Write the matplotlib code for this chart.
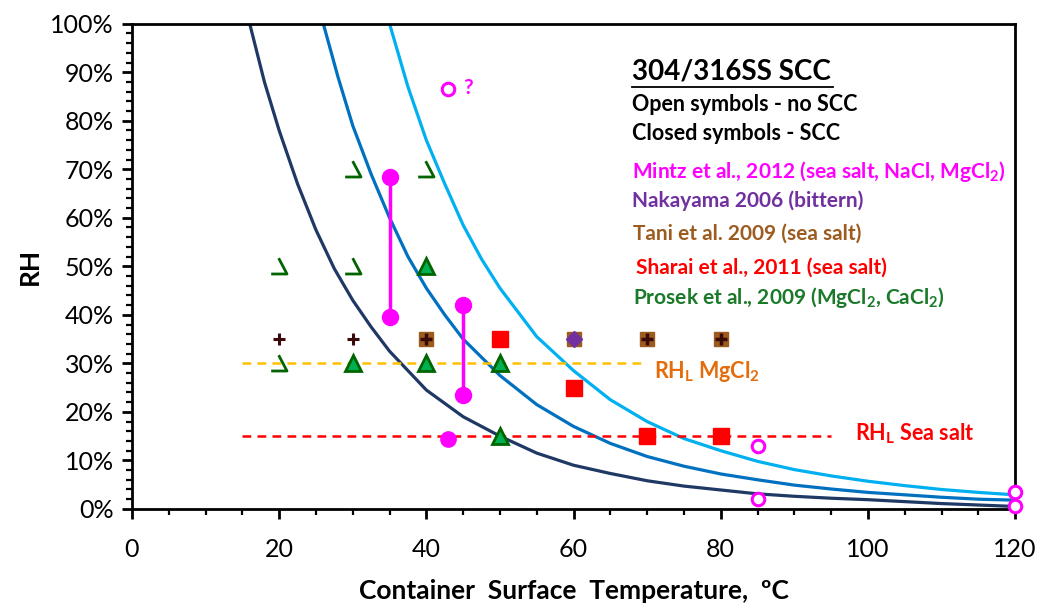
import numpy as np
import matplotlib
matplotlib.use("Agg")
import matplotlib.pyplot as plt
from matplotlib.path import Path
from matplotlib.ticker import MultipleLocator, PercentFormatter

plt.rcParams['font.family'] = ['Lato', 'DejaVu Sans']
plt.rcParams['mathtext.fontset'] = 'custom'
plt.rcParams['mathtext.bf'] = 'Lato:bold'
plt.rcParams['mathtext.rm'] = 'Lato'

# RH curves (temperature degC, RH %)
temp_dark = [16, 18, 20, 22.5, 25, 27.5, 30, 32.5, 35, 40, 45, 50, 55, 60, 65, 70, 75, 80,
             85, 90, 95, 100, 105, 110, 115, 120]
rh_dark = [100, 88, 78, 67, 57.5, 49.5, 43, 37.5, 32.5, 24.5, 19, 15, 11.5, 9, 7.3, 5.8, 4.7, 3.9,
           3.1, 2.6, 2.2, 1.9, 1.5, 1.1, 0.8, 0.5]

temp_mid = [26, 28, 30, 32.5, 35, 37.5, 40, 42.5, 45, 50, 55, 60, 65, 70, 75, 80, 85, 90, 95,
            100, 105, 110, 115, 120]
rh_mid = [100, 89, 79, 69, 60, 52, 45.5, 40, 35, 27.5, 21.5, 17, 13.5, 10.8, 8.8, 7.2, 6, 4.9, 4.1,
          3.4, 2.9, 2.4, 2.0, 1.8]

temp_light = [35, 37.5, 40, 42.5, 45, 47.5, 50, 55, 60, 65, 70, 75, 80, 85, 90, 95, 100, 105,
              110, 115, 120]
rh_light = [100, 87, 76, 67, 58.5, 51.5, 45.5, 35.5, 28.5, 22.5, 18, 14.5, 12, 9.8, 8.1, 6.8, 5.7,
            4.8, 4.0, 3.4, 2.9]

# Mintz et al. 2012
mintz_bar_t = [35, 45]
mintz_bar_lo = [39.5, 23.5]
mintz_bar_hi = [68.5, 42]
mintz_closed_t = [43]
mintz_closed_rh = [14.5]
mintz_open_t = [43, 85, 85, 120, 120]
mintz_open_rh = [86.5, 13, 2, 3.5, 0.5]

# Nakayama 2006
naka_t = [60]
naka_rh = [35]

# Tani et al. 2009
tani_closed_t = [40, 50, 60, 70, 80]
tani_closed_rh = [35, 35, 35, 35, 35]
tani_open_t = [20, 30]
tani_open_rh = [35, 35]

# Sharai et al. 2011
sharai_t = [50, 60, 70, 80]
sharai_rh = [35, 25, 15, 15]

# Prosek et al. 2009
prosek_closed_t = [40, 30, 40, 50, 50]
prosek_closed_rh = [50, 30, 30, 30, 15]
prosek_open_t = [30, 40, 20, 30, 20]
prosek_open_rh = [70, 70, 50, 50, 30]

# RH_L reference lines
rhl_sea_t = [15, 95]
rhl_sea_rh = [15, 15]
rhl_mg_t = [15, 70]
rhl_mg_rh = [30, 30]

magenta = '#FF00FF'
purple = '#7030A0'
brown = '#9C5B1F'
red = '#FF0000'
green_txt = '#1A7A2A'
green_fill = '#00B050'
green_edge = '#006400'

fig = plt.figure(figsize=(10.39, 6.08), dpi=100)
ax = fig.add_axes([0.127, 0.163, 0.850, 0.798])

ax.plot(temp_dark, rh_dark, color='#1F3864', lw=2.3, zorder=2)
ax.plot(temp_mid, rh_mid, color='#0070C0', lw=2.3, zorder=2)
ax.plot(temp_light, rh_light, color='#00B0F0', lw=2.3, zorder=2)

ax.plot(rhl_sea_t, rhl_sea_rh, color=red, lw=1.8, ls=(0, (3.5, 2.5)), zorder=3)
ax.plot(rhl_mg_t, rhl_mg_rh, color='#FFC000', lw=1.8, ls=(0, (3.5, 2.5)), zorder=3)

# open triangle drawn as in the source (right side + base)
open_tri = Path([(-0.1, 1.0), (0.9, -0.9), (-1.0, -0.9)],
                [Path.MOVETO, Path.LINETO, Path.LINETO])

ax.plot(prosek_open_t, prosek_open_rh, ls='none', marker=open_tri, ms=12,
        mfc='none', mec=green_edge, mew=2, zorder=5)
ax.plot(prosek_closed_t, prosek_closed_rh, ls='none', marker='^', ms=11,
        mfc=green_fill, mec=green_edge, mew=2, zorder=6)

ax.plot(tani_closed_t, tani_closed_rh, ls='none', marker='s', ms=10.5,
        mfc=brown, mec=brown, zorder=4)
ax.plot(tani_closed_t, tani_closed_rh, ls='none', marker='+', ms=9,
        mec='#3A0A0A', mew=2.5, zorder=4)
ax.plot(tani_open_t, tani_open_rh, ls='none', marker='+', ms=9,
        mec='#3A0A0A', mew=2.2, zorder=4)

ax.plot(sharai_t, sharai_rh, ls='none', marker='s', ms=11,
        mfc=red, mec=red, zorder=5)

ax.plot(naka_t, naka_rh, ls='none', marker='D', ms=8,
        mfc=purple, mec=purple, zorder=6)

for t, lo, hi in zip(mintz_bar_t, mintz_bar_lo, mintz_bar_hi):
    ax.plot([t, t], [lo, hi], color=magenta, lw=2.5, marker='o', ms=11.5,
            mfc=magenta, mec=magenta, zorder=6)
ax.plot(mintz_closed_t, mintz_closed_rh, ls='none', marker='o', ms=11,
        mfc=magenta, mec=magenta, zorder=6)
ax.plot(mintz_open_t, mintz_open_rh, ls='none', marker='o', ms=9,
        mfc='white', mec=magenta, mew=2.2, zorder=7, clip_on=False)
ax.text(45.0, 86.8, '?', color=magenta, fontsize=15, fontweight='bold', va='center')

# annotations
ax.text(67.9, 90.2, '304/316SS SCC', fontsize=20, fontweight='bold', va='center')
ax.plot([67.9, 95.2], [87.0, 87.0], color='black', lw=1.3)
ax.text(67.9, 83.3, 'Open symbols - no SCC', fontsize=15.5, fontweight='bold', va='center')
ax.text(67.9, 77.3, 'Closed symbols - SCC', fontsize=15.5, fontweight='bold', va='center')
ax.text(68.0, 69.6, r'Mintz et al., 2012 (sea salt, NaCl, MgCl$_\mathbf{2}$)', color=magenta,
        fontsize=15, fontweight='bold', va='center')
ax.text(68.0, 63.6, 'Nakayama 2006 (bittern)', color=purple,
        fontsize=15, fontweight='bold', va='center')
ax.text(68.1, 56.7, 'Tani et al. 2009 (sea salt)', color=brown,
        fontsize=15, fontweight='bold', va='center')
ax.text(68.5, 49.7, 'Sharai et al., 2011 (sea salt)', color=red,
        fontsize=15, fontweight='bold', va='center')
ax.text(68.1, 43.5, r'Prosek et al., 2009 (MgCl$_\mathbf{2}$, CaCl$_\mathbf{2}$)', color=green_txt,
        fontsize=15, fontweight='bold', va='center')
ax.text(71.0, 28.3, r'RH$_\mathbf{L}$ MgCl$_\mathbf{2}$', color='#E46C0A',
        fontsize=15.5, fontweight='bold', va='center')
ax.text(98.2, 15.5, r'RH$_\mathbf{L}$ Sea salt', color=red,
        fontsize=15.5, fontweight='bold', va='center')

ax.set_xlim(0, 120)
ax.set_ylim(0, 100)
ax.xaxis.set_major_locator(MultipleLocator(20))
ax.xaxis.set_minor_locator(MultipleLocator(5))
ax.yaxis.set_major_locator(MultipleLocator(10))
ax.yaxis.set_minor_locator(MultipleLocator(2))
ax.yaxis.set_major_formatter(PercentFormatter(decimals=0))
ax.tick_params(which='major', direction='out', length=7, width=2, labelsize=18, pad=6)
ax.tick_params(axis='x', which='major', pad=14)
ax.tick_params(which='minor', direction='out', length=4, width=1.6)
for s in ax.spines.values():
    s.set_linewidth(2)

ax.set_xlabel('Container  Surface  Temperature,  ºC', fontsize=19, fontweight='bold', labelpad=13)
ax.set_ylabel('RH', fontsize=19, fontweight='bold', labelpad=6)

fig.savefig('out.png', dpi=100)
